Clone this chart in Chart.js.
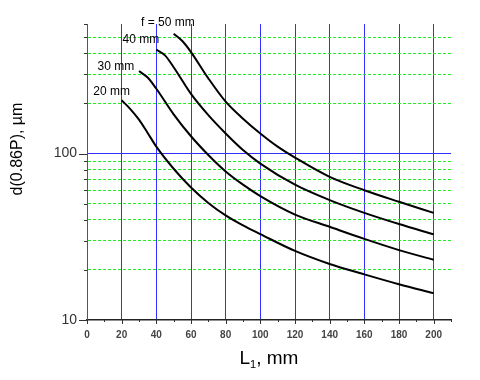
<!DOCTYPE html>
<html>
<head>
<meta charset="utf-8">
<script src="https://cdn.jsdelivr.net/npm/chart.js@4/dist/chart.umd.min.js"></script>
<style>
  html, body { margin: 0; padding: 0; background: #fff; }
  #wrap { width: 480px; height: 380px; }
</style>
</head>
<body>
<div id="wrap"><canvas id="grafico"></canvas></div>
<script>
// L1 (mm) and d(0.86P) (um) for each focal length
const l20 = [20, 25, 30, 35, 40, 50, 60, 70, 80, 90, 100, 120, 140, 160, 180, 200];
const d20 = [209, 185, 160, 133, 110, 81, 62.5, 50.5, 42.5, 37, 32.8, 26, 21.7, 18.8, 16.4, 14.5];
const l30 = [30, 35, 40, 50, 60, 70, 80, 90, 100, 120, 140, 160, 180, 200];
const d30 = [313, 286, 245, 172, 127, 98, 78, 65, 55.5, 43, 36.3, 30.7, 26.3, 23];
const l40 = [40, 45, 50, 60, 70, 80, 90, 100, 120, 140, 160, 180, 200];
const d40 = [421, 389, 330, 228, 170, 132, 105, 87, 65, 52.5, 44, 37.7, 32.7];
const l50 = [50, 55, 60, 70, 80, 90, 100, 110, 120, 140, 160, 180, 200];
const d50 = [525, 474, 407, 283, 205, 162, 132, 110, 94.5, 72.4, 60.2, 51.3, 44];

// curve labels, anchored in data units
const labelText = ['20 mm', '30 mm', '40 mm', 'f = 50 mm'];
const labelX = [14.2, 16.7, 31.1, 46.7];
const labelY = [235, 334, 485, 614];

const xTicks = [0, 10, 20, 30, 40, 50, 60, 70, 80, 90, 100, 110, 120, 130, 140, 150, 160, 170, 180, 190, 200, 210];
const yTicks = [10, 20, 30, 40, 50, 60, 70, 80, 90, 100, 200, 300, 400, 500, 600];

const FONT = '"Liberation Sans", Arial, sans-serif';
const BLUE = '#3030ff';
const GREEN = '#22ee22';

function serie(xs, ys) {
  return {
    data: xs.map((v, i) => ({ x: v, y: ys[i] })),
    borderColor: '#000',
    borderWidth: 2,
    pointRadius: 0,
    fill: false,
    cubicInterpolationMode: 'monotone'
  };
}

const extras = {
  id: 'extras',
  afterDraw(chart) {
    const { ctx, chartArea: ca, scales: { x, y } } = chart;
    ctx.save();
    ctx.strokeStyle = '#333';
    ctx.lineWidth = 1;
    yTicks.forEach(v => {
      const py = Math.round(y.getPixelForValue(v)) + 0.5;
      const len = (v === 10 || v === 100) ? 8 : 3;
      ctx.beginPath();
      ctx.moveTo(ca.left - len, py);
      ctx.lineTo(ca.left, py);
      ctx.stroke();
    });
    xTicks.forEach(v => {
      const px = Math.round(x.getPixelForValue(v)) + 0.5;
      const len = v % 20 === 0 ? 4 : 2;
      ctx.beginPath();
      ctx.moveTo(px, ca.bottom);
      ctx.lineTo(px, ca.bottom + len);
      ctx.stroke();
    });

    ctx.fillStyle = '#000';
    ctx.font = '12px ' + FONT;
    ctx.textAlign = 'center';
    ctx.textBaseline = 'middle';
    labelText.forEach((t, i) => {
      ctx.fillText(t, x.getPixelForValue(labelX[i]), y.getPixelForValue(labelY[i]));
    });

    // x title with subscript
    ctx.textAlign = 'left';
    ctx.textBaseline = 'alphabetic';
    ctx.font = '19px ' + FONT;
    const wL = ctx.measureText('L').width;
    ctx.font = '11px ' + FONT;
    const w1 = ctx.measureText('1').width;
    ctx.font = '19px ' + FONT;
    const wRest = ctx.measureText(', mm').width;
    let tx = (ca.left + ca.right) / 2 - (wL + w1 + wRest) / 2;
    const ty = 364;
    ctx.fillText('L', tx, ty);
    tx += wL;
    ctx.font = '11px ' + FONT;
    ctx.fillText('1', tx, ty + 4);
    tx += w1;
    ctx.font = '19px ' + FONT;
    ctx.fillText(', mm', tx, ty);

    // y title
    ctx.translate(18, 149);
    ctx.rotate(-Math.PI / 2);
    ctx.textAlign = 'center';
    ctx.textBaseline = 'middle';
    ctx.font = '16px ' + FONT;
    ctx.fillText('d(0.86P), µm', 0, 0);
    ctx.restore();
  }
};

new Chart(document.getElementById('grafico'), {
  type: 'line',
  data: {
    datasets: [serie(l20, d20), serie(l30, d30), serie(l40, d40), serie(l50, d50)]
  },
  options: {
    responsive: true,
    maintainAspectRatio: false,
    animation: false,
    layout: { padding: { top: 24, right: 29, left: 0, bottom: 0 } },
    plugins: { legend: { display: false }, tooltip: { enabled: false } },
    scales: {
      x: {
        type: 'linear',
        min: 0,
        max: 210,
        afterBuildTicks: s => { s.ticks = xTicks.map(v => ({ value: v })); },
        afterFit: s => { s.height = 60; },
        ticks: {
          autoSkip: false,
          maxRotation: 0,
          padding: 9,
          color: '#444',
          font: { size: 10, weight: 'bold', family: FONT },
          callback: v => (v % 20 === 0 && v <= 200) ? String(v) : ''
        },
        grid: {
          drawTicks: false,
          lineWidth: 1,
          color: c => (c.tick && c.tick.value % 20 === 0 && c.tick.value > 0 && c.tick.value <= 200) ? BLUE : 'rgba(0,0,0,0)'
        },
        border: { color: '#222', width: 1.5 }
      },
      y: {
        type: 'logarithmic',
        min: 10,
        max: 600,
        afterBuildTicks: s => { s.ticks = yTicks.map(v => ({ value: v })); },
        afterFit: s => { s.width = 87; },
        ticks: {
          autoSkip: false,
          padding: 10,
          color: '#333',
          font: { size: 14, family: FONT },
          callback: v => (v === 10 || v === 100) ? String(v) : ''
        },
        grid: {
          drawTicks: false,
          lineWidth: 1,
          color: c => {
            if (!c.tick) return 'rgba(0,0,0,0)';
            const v = c.tick.value;
            if (v === 100) return BLUE;
            if (v === 10 || v === 600) return 'rgba(0,0,0,0)';
            return GREEN;
          }
        },
        border: {
          color: '#555',
          width: 1,
          dash: c => (c.tick && c.tick.value !== 100) ? [3, 2] : []
        }
      }
    }
  },
  plugins: [extras]
});
</script>
</body>
</html>
